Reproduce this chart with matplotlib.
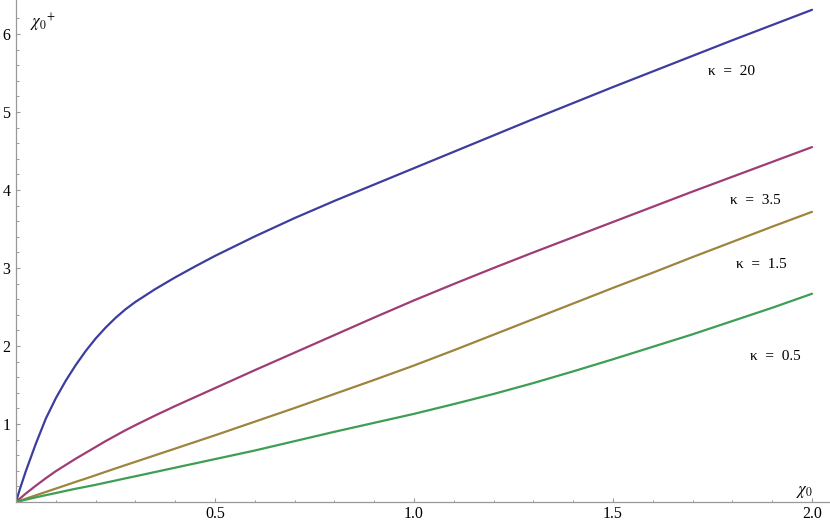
import matplotlib
matplotlib.use("Agg")
import matplotlib.pyplot as plt
from matplotlib.ticker import FixedLocator

plt.rcParams['font.family'] = ['Liberation Serif', 'DejaVu Serif']
plt.rcParams['mathtext.fontset'] = 'stix'

x = [0, 0.01, 0.025, 0.05, 0.075, 0.1, 0.125, 0.15, 0.175, 0.2, 0.225,
     0.25, 0.275, 0.3, 0.35, 0.4, 0.45, 0.5, 0.6, 0.7, 0.8, 0.9, 1.0,
     1.1, 1.2, 1.3, 1.4, 1.5, 1.6, 1.7, 1.8, 1.9, 2.0]
kappa_20 = [0, 0.17, 0.40, 0.75, 1.07, 1.33, 1.555, 1.755, 1.935, 2.095, 2.235,
            2.36, 2.47, 2.565, 2.73, 2.88, 3.02, 3.155, 3.405, 3.64, 3.86, 4.07, 4.28,
            4.49, 4.70, 4.91, 5.115, 5.32, 5.52, 5.72, 5.92, 6.115, 6.31]
kappa_35 = [0, 0.045, 0.11, 0.21, 0.305, 0.395, 0.475, 0.555, 0.63, 0.705, 0.78,
            0.85, 0.92, 0.985, 1.11, 1.23, 1.345, 1.46, 1.69, 1.915, 2.14, 2.365, 2.585,
            2.795, 3.0, 3.2, 3.395, 3.59, 3.785, 3.98, 4.17, 4.36, 4.55]
kappa_15 = [0, 0.017, 0.043, 0.086, 0.129, 0.172, 0.215, 0.258, 0.30, 0.343, 0.387,
            0.43, 0.473, 0.515, 0.60, 0.685, 0.77, 0.855, 1.03, 1.205, 1.385, 1.565, 1.75,
            1.945, 2.145, 2.345, 2.545, 2.745, 2.94, 3.14, 3.335, 3.53, 3.72]
kappa_05 = [0, 0.012, 0.03, 0.06, 0.088, 0.115, 0.143, 0.17, 0.195, 0.22, 0.248,
            0.275, 0.303, 0.33, 0.385, 0.44, 0.495, 0.55, 0.66, 0.78, 0.90, 1.015, 1.13,
            1.255, 1.385, 1.525, 1.675, 1.83, 1.99, 2.15, 2.32, 2.49, 2.67]

series = [kappa_20, kappa_35, kappa_15, kappa_05]
labels = ["κ  =  20", "κ  =  3.5", "κ  =  1.5", "κ  =  0.5"]
label_pos = [(1.797, 5.52), (1.857, 3.86), (1.872, 3.04), (1.907, 1.86)]
colors = [(0.24, 0.24, 0.62), (0.62, 0.24, 0.46), (0.62, 0.52, 0.24), (0.24, 0.62, 0.33)]

fig = plt.figure(figsize=(8.3, 5.24), dpi=100)
ax = fig.add_axes([16/830, 22/524, 814/830, 502/524])
ax.set_xlim(0, 814/398)
ax.set_ylim(0, 502/78)

for ys, c in zip(series, colors):
    ax.plot(x, ys, color=c, lw=1.6, solid_capstyle='round', solid_joinstyle='round')

for t, (px, py) in zip(labels, label_pos):
    ax.text(px, py, t, ha='center', va='center', fontsize=11)

gray = (0.6, 0.6, 0.6)
for s in ['top', 'right']:
    ax.spines[s].set_visible(False)
for s in ['left', 'bottom']:
    ax.spines[s].set_color(gray)
    ax.spines[s].set_linewidth(0.9)

ax.xaxis.set_major_locator(FixedLocator([0.5, 1.0, 1.5, 2.0]))
ax.set_xticklabels(["0.5", "1.0", "1.5", "2.0"])
ax.xaxis.set_minor_locator(FixedLocator([0.1, 0.2, 0.3, 0.4, 0.6, 0.7, 0.8, 0.9,
                                         1.1, 1.2, 1.3, 1.4, 1.6, 1.7, 1.8, 1.9]))
ax.yaxis.set_major_locator(FixedLocator([1, 2, 3, 4, 5, 6]))
ax.set_yticklabels(["1", "2", "3", "4", "5", "6"])
ax.yaxis.set_minor_locator(FixedLocator([v / 5 for v in range(1, 32) if v % 5 != 0]))

ax.tick_params(which='major', direction='in', length=3.2, width=0.8, color=gray,
               labelsize=11.5, pad=3)
ax.tick_params(which='minor', direction='in', length=1.8, width=0.7, color=gray)
ax.tick_params(axis='y', which='major', pad=4)

ax.text(1.982, 0.13, r"$\chi_0$", ha='center', va='center', fontsize=12)
ax.text(0.067, 6.15, r"$\chi_0{}^{+}$", ha='center', va='center', fontsize=12)

fig.savefig("out.png", dpi=100)
